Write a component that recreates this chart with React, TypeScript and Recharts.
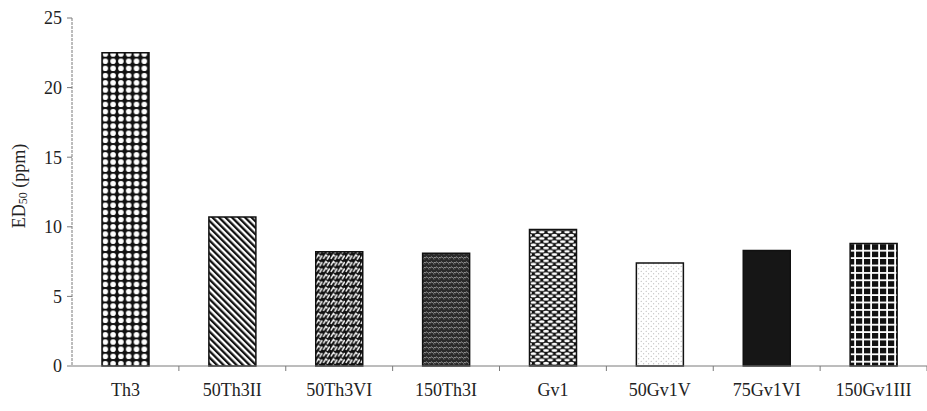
import React from "react";
import { BarChart, Bar, XAxis, YAxis, Cell } from "recharts";

// ED50 per strain
const strains = ["Th3", "50Th3II", "50Th3VI", "150Th3I", "Gv1", "50Gv1V", "75Gv1VI", "150Gv1III"];
const ed50 = [22.5, 10.7, 8.2, 8.1, 9.8, 7.4, 8.3, 8.8];
const yTicks = [0, 5, 10, 15, 20, 25];
const fills = [
  "url(#dots)",
  "url(#diag)",
  "url(#weave)",
  "url(#wave)",
  "url(#ovals)",
  "url(#speckle)",
  "#161616",
  "url(#grid)",
];

const data = strains.map((name, i) => ({ name, ed50: ed50[i] }));

const CHART_W = 927;
const CHART_H = 411;
const Y_AXIS_W = 72;
const X_TICK_SIZE = 5;
const X_TICK_MARGIN = 12;
const band = (CHART_W - Y_AXIS_W) / strains.length;
const ink = "#222";
const axisGray = "#7a7a7a";
const serif = "'Liberation Serif', 'DejaVu Serif', serif";

// category label centred in the band, with tick marks on the band edges
function StrainTick(props: any) {
  const { x, y, payload, index } = props;
  const axisY = y - X_TICK_SIZE - X_TICK_MARGIN;
  const left = x - band / 2;
  const right = x + band / 2;
  return (
    <g>
      {index > 0 && (
        <line x1={left} x2={left} y1={axisY} y2={axisY + X_TICK_SIZE} stroke={axisGray} />
      )}
      {index === strains.length - 1 && (
        <line x1={right} x2={right} y1={axisY} y2={axisY + X_TICK_SIZE} stroke={axisGray} />
      )}
      <text x={x} y={y} dy="0.71em" textAnchor="middle" fill={ink} fontSize={18} fontFamily={serif}>
        {payload.value}
      </text>
    </g>
  );
}

function YTitle() {
  return (
    <text
      transform="rotate(-90, 19, 186)"
      x={19}
      y={186}
      dy="0.35em"
      textAnchor="middle"
      fill={ink}
      fontSize={18}
      fontFamily={serif}
    >
      ED
      <tspan fontSize={12} dy="2">50</tspan>
      <tspan dy="-2"> (ppm)</tspan>
    </text>
  );
}

export default function App() {
  return (
    <div style={{ position: "absolute", left: 0, top: 0, background: "#fff" }}>
      <BarChart
        width={CHART_W}
        height={CHART_H}
        data={data}
        margin={{ top: 18, right: 0, bottom: 0, left: 0 }}
      >
        <defs>
          <pattern id="dots" patternUnits="userSpaceOnUse" width={7.8} height={7.2}>
            <rect width={7.8} height={7.2} fill="#111" />
            <circle cx={3.9} cy={3.6} r={2.8} fill="#fff" />
          </pattern>
          <pattern id="diag" patternUnits="userSpaceOnUse" width={4.6} height={10} patternTransform="rotate(-45)">
            <rect width={4.6} height={10} fill="#fff" />
            <rect width={2.3} height={10} fill="#111" />
          </pattern>
          <pattern id="weave" patternUnits="userSpaceOnUse" width={7.5} height={6.5}>
            <rect width={7.5} height={6.5} fill="#111" />
            <path d="M0.8 5.5 L3.4 1.4 L5 3 M4.6 6.2 L7.2 2" stroke="#fff" strokeWidth={1.5} fill="none" />
          </pattern>
          <pattern id="wave" patternUnits="userSpaceOnUse" width={5} height={5}>
            <rect width={5} height={5} fill="#2a2a2a" />
            <path d="M0 3.5 Q1.25 0.5 2.5 2.5 T5 2" stroke="#a0a0a0" strokeWidth={0.9} fill="none" />
            <circle cx={4} cy={4.3} r={0.5} fill="#777" />
          </pattern>
          <pattern id="ovals" patternUnits="userSpaceOnUse" width={8.4} height={6.4}>
            <rect width={8.4} height={6.4} fill="#111" />
            <ellipse cx={4.2} cy={1.6} rx={2.8} ry={1.4} fill="#fff" />
            <ellipse cx={0} cy={4.8} rx={2.8} ry={1.4} fill="#fff" />
            <ellipse cx={8.4} cy={4.8} rx={2.8} ry={1.4} fill="#fff" />
          </pattern>
          <pattern id="speckle" patternUnits="userSpaceOnUse" width={5} height={5}>
            <rect width={5} height={5} fill="#fff" />
            <circle cx={1.2} cy={1.2} r={0.5} fill="#999" />
            <circle cx={3.7} cy={3.7} r={0.5} fill="#999" />
          </pattern>
          <pattern id="grid" patternUnits="userSpaceOnUse" width={8} height={7.4}>
            <rect width={8} height={7.4} fill="#fff" />
            <rect x={0} y={0} width={6.2} height={5.6} fill="#111" />
          </pattern>
        </defs>
        <XAxis
          dataKey="name"
          height={CHART_H - 18 - 348}
          tickLine={false}
          tickSize={X_TICK_SIZE}
          tickMargin={X_TICK_MARGIN}
          tick={<StrainTick />}
          axisLine={{ stroke: axisGray }}
          interval={0}
        />
        <YAxis
          width={Y_AXIS_W}
          domain={[0, 25]}
          ticks={yTicks}
          tickSize={5}
          tickMargin={5}
          tickLine={{ stroke: axisGray }}
          axisLine={{ stroke: axisGray, strokeDasharray: "3 1" }}
          tick={{ fill: ink, fontSize: 18, fontFamily: serif }}
          label={{ content: () => <YTitle /> }}
        />
        <Bar dataKey="ed50" barSize={47} stroke="#111" strokeWidth={1.5} isAnimationActive={false}>
          {data.map((d, i) => (
            <Cell key={d.name} fill={fills[i]} />
          ))}
        </Bar>
      </BarChart>
    </div>
  );
}
